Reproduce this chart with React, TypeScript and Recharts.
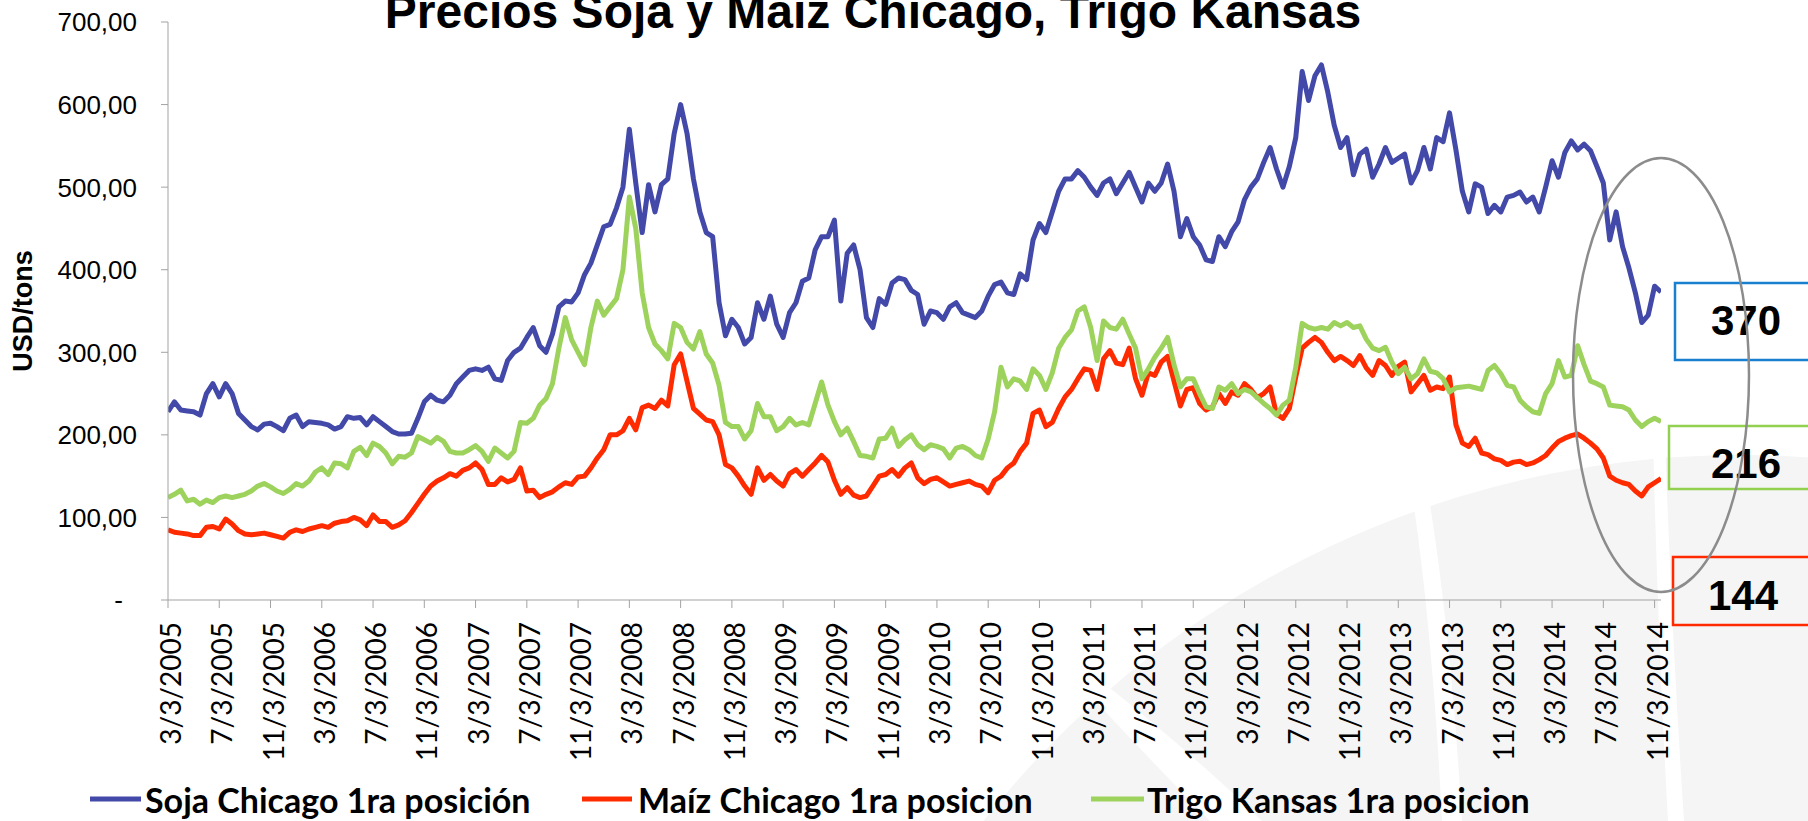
import { LineChart, Line, XAxis, YAxis } from "recharts";

// tick labels on the date axis, one every 4 months from 3/3/2005
const tickLabels = [
  "3/3/2005", "7/3/2005", "11/3/2005", "3/3/2006", "7/3/2006", "11/3/2006",
  "3/3/2007", "7/3/2007", "11/3/2007", "3/3/2008", "7/3/2008", "11/3/2008",
  "3/3/2009", "7/3/2009", "11/3/2009", "3/3/2010", "7/3/2010", "11/3/2010",
  "3/3/2011", "7/3/2011", "11/3/2011", "3/3/2012", "7/3/2012", "11/3/2012",
  "3/3/2013", "7/3/2013", "11/3/2013", "3/3/2014", "7/3/2014", "11/3/2014",
];

// USD/tons, sampled every half month starting 3/3/2005
const soja = [
  228, 240, 230, 229, 228, 224, 250, 262, 246, 262, 250, 226, 218, 210, 206, 213, 214, 210, 205, 220, 224, 210, 216, 215, 214, 212, 207, 210, 222, 220, 221, 212, 222, 216, 210, 204, 201, 201, 202, 220, 240, 248, 242, 240, 248, 262, 270,
  278, 280, 278, 282, 268, 266, 290, 300, 305, 318, 330, 308, 300, 322, 355, 362, 361, 372, 394, 408, 430, 452, 455, 475, 500, 570, 505, 445, 503, 470, 503, 510, 565, 600, 565, 510, 470, 445, 440, 360, 320, 340, 330, 310, 318, 360, 340,
  368, 334, 318, 348, 360, 386, 390, 424, 440, 440, 460, 362, 420, 430, 400, 342, 330, 365, 358, 384, 390, 388, 375, 370, 334, 350, 348, 340, 355, 360, 348, 345, 342, 350, 368, 382, 385, 372, 370, 395, 388, 436, 456, 445, 470, 495, 510,
  510, 520, 512, 500, 490, 505, 510, 492, 505, 518, 500, 482, 505, 495, 505, 528, 495, 440, 462, 440, 430, 412, 410, 440, 428, 446, 458, 485, 500, 510, 530, 548, 522, 500, 525, 560, 640, 605, 635, 648, 615, 575, 548, 560, 515, 540, 546,
  512, 528, 548, 530, 535, 540, 505, 520, 548, 522, 560, 555, 590, 545, 495, 470, 504, 500, 468, 478, 470, 488, 490, 494, 482, 488, 470, 500, 532, 512, 542, 556, 545, 552, 544, 525, 505, 436, 470, 428, 402, 372, 336, 345, 380, 373,
];

const maiz = [
  85, 82, 81, 80, 78, 78, 88, 89, 86, 98, 92, 84, 80, 79, 80, 81, 79, 77, 75, 82, 85, 83, 86, 88, 90, 88, 93, 95, 96, 100, 97, 90, 103, 95, 95, 88, 91, 96, 106, 117, 128, 138, 144, 148, 153, 150, 157,
  160, 166, 158, 140, 140, 148, 143, 146, 160, 132, 133, 124, 128, 131, 137, 142, 140, 149, 150, 160, 172, 182, 200, 200, 205, 220, 206, 233, 236, 232, 242, 235, 285, 298, 265, 232, 225, 218, 216, 200, 164, 160, 150, 138, 128, 160, 145,
  152, 144, 138, 153, 158, 150, 158, 166, 175, 167, 145, 128, 136, 127, 124, 126, 138, 150, 152, 158, 150, 160, 166, 148, 141, 146, 148, 143, 138, 140, 142, 144, 140, 138, 130, 145, 150, 160, 166, 180, 190, 226, 230, 210, 215, 232, 246,
  255, 268, 280, 278, 255, 292, 302, 287, 285, 305, 268, 248, 275, 272, 288, 295, 265, 235, 255, 257, 238, 230, 234, 250, 238, 252, 248, 262, 255, 245, 250, 258, 225, 220, 232, 270, 305, 312, 318, 312, 300, 290, 295, 290, 284, 296, 281,
  272, 290, 284, 272, 283, 288, 252, 262, 272, 254, 258, 256, 270, 212, 190, 186, 196, 178, 176, 171, 169, 164, 167, 168, 164, 166, 170, 175, 184, 192, 196, 199, 201, 196, 190, 183, 172, 150, 145, 142, 140, 132, 126, 137, 142, 147,
];

const trigo = [
  124, 128, 133, 120, 122, 116, 121, 118, 124, 126, 124, 126, 128, 132, 138, 141, 137, 132, 129, 134, 141, 138, 144, 155, 160, 152, 166, 165, 160, 180, 185, 175, 190, 186, 178, 165, 174, 173, 178, 198, 194, 190, 197, 192, 180, 178, 178,
  182, 187, 180, 168, 184, 178, 172, 180, 215, 214, 220, 236, 244, 262, 305, 342, 315, 300, 285, 330, 362, 345, 355, 365, 400, 488, 450, 372, 330, 310, 302, 292, 335, 330, 312, 304, 325, 298, 287, 260, 215, 210, 210, 195, 205, 238, 222,
  222, 205, 210, 220, 212, 215, 212, 238, 264, 236, 216, 200, 208, 192, 175, 174, 172, 195, 196, 208, 186, 194, 200, 188, 182, 188, 186, 183, 172, 184, 186, 182, 175, 172, 195, 228, 282, 258, 268, 265, 255, 280, 272, 255, 275, 305, 318,
  327, 350, 355, 330, 290, 338, 330, 328, 340, 322, 305, 268, 280, 294, 305, 318, 285, 258, 268, 268, 250, 234, 232, 258, 254, 262, 250, 255, 252, 245, 238, 232, 224, 236, 242, 282, 335, 330, 328, 330, 328, 336, 332, 336, 330, 332, 316,
  305, 302, 306, 288, 274, 282, 268, 274, 292, 277, 275, 268, 252, 257, 258, 259, 257, 255, 278, 284, 274, 260, 258, 242, 234, 228, 226, 250, 262, 290, 270, 272, 308, 285, 265, 262, 258, 236, 235, 234, 230, 218, 210, 216, 220, 216,
];

const yTicks = [0, 100, 200, 300, 400, 500, 600, 700];
const lastValues = ["370", "216", "144"];

const rows = soja.map((v, i) => ({ m: i / 2, soja: v, maiz: maiz[i], trigo: trigo[i] }));
const xTicks = tickLabels.map((_, i) => i * 4);

const AXIS = "#A3A3A3";
const ARIAL = "'Liberation Sans', Arial, sans-serif";
const CALIBRI = "Lato, 'Open Sans', sans-serif";

function YTick(props: any) {
  const { x, y, payload } = props;
  const v = payload.value as number;
  if (v === 0) {
    return (
      <text x={x - 36} y={y} dy="0.36em" textAnchor="end" fontSize={26} fontFamily={ARIAL} fill="#000">
        -
      </text>
    );
  }
  return (
    <text x={x - 22} y={y} dy="0.36em" textAnchor="end" fontSize={26} fontFamily={ARIAL} fill="#000">
      {v.toFixed(2).replace(".", ",")}
    </text>
  );
}

function XTick(props: any) {
  const { x, y, index } = props;
  return (
    <text
      transform={`translate(${x + 3},${y + 12}) rotate(-90)`}
      dy="0.36em"
      textAnchor="end"
      fontSize={28}
      fontFamily={CALIBRI}
      fill="#000"
    >
      {tickLabels[index]}
    </text>
  );
}

const legendItems = [
  { label: "Soja Chicago 1ra posición", color: "#4249A8", x1: 90, x2: 141, tx: 145 },
  { label: "Maíz Chicago 1ra posicion", color: "#FF2B00", x1: 582, x2: 632, tx: 638 },
  { label: "Trigo Kansas 1ra posicion", color: "#9DD35C", x1: 1091, x2: 1144, tx: 1147 },
];

export default function App() {
  return (
    <div style={{ position: "relative", width: 1808, height: 821, background: "#fff", overflow: "hidden" }}>
      <style>{"body{margin:0}"}</style>

      {/* faint logo watermark behind the chart */}
      <svg width={1808} height={821} style={{ position: "absolute", left: 0, top: 0 }}>
        <circle cx={1740} cy={1420} r={965} fill="#F5F5F5" />
        <path d="M1410,480 L1426,480 Q1450,620 1462,821 L1442,821 Q1432,620 1410,480 Z" fill="#fff" />
        <path d="M1653,440 L1665,440 Q1672,640 1684,821 L1668,821 Q1658,640 1653,440 Z" fill="#fff" />
        <path d="M1085,690 L1105,684 Q1200,760 1262,821 L1210,821 Q1150,760 1085,690 Z" fill="#fff" />
      </svg>

      <div style={{ position: "absolute", left: 0, top: 0 }}>
        <LineChart width={1808} height={821} data={rows} margin={{ top: 22, right: 147, bottom: 41, left: 0 }}>
          <XAxis
            type="number"
            dataKey="m"
            domain={[0, 116.5]}
            ticks={xTicks}
            interval={0}
            height={180}
            tickSize={8}
            stroke={AXIS}
            tickLine={{ stroke: AXIS }}
            tick={<XTick />}
            allowDataOverflow
          />
          <YAxis
            type="number"
            domain={[0, 700]}
            ticks={yTicks}
            interval={0}
            width={168}
            tickSize={7}
            stroke={AXIS}
            tickLine={{ stroke: AXIS }}
            tick={<YTick />}
          />
          <Line type="linear" dataKey="soja" stroke="#4249A8" strokeWidth={5} dot={false} isAnimationActive={false} strokeLinejoin="round" />
          <Line type="linear" dataKey="maiz" stroke="#FF2B00" strokeWidth={5} dot={false} isAnimationActive={false} strokeLinejoin="round" />
          <Line type="linear" dataKey="trigo" stroke="#9DD35C" strokeWidth={5} dot={false} isAnimationActive={false} strokeLinejoin="round" />
        </LineChart>
      </div>

      {/* title, axis label, annotations and legend */}
      <svg width={1808} height={821} style={{ position: "absolute", left: 0, top: 0, pointerEvents: "none" }}>
        <text x={873} y={28} textAnchor="middle" fontSize={48} fontWeight="bold" fontFamily={ARIAL} fill="#000">
          Precios Soja y Maíz Chicago, Trigo Kansas
        </text>
        <text transform="translate(22,311) rotate(-90)" dy="0.36em" textAnchor="middle" fontSize={27} fontWeight="bold" fontFamily={ARIAL} fill="#000">
          USD/tons
        </text>

        <rect x={1675} y={283} width={200} height={77} fill="none" stroke="#1A7FCF" strokeWidth={2.5} />
        <text x={1746} y={320} dy="0.36em" textAnchor="middle" fontSize={42} fontWeight="bold" fontFamily={ARIAL} fill="#000">
          {lastValues[0]}
        </text>
        <rect x={1669} y={426} width={200} height={63} fill="none" stroke="#92D050" strokeWidth={2.5} />
        <text x={1746} y={463} dy="0.36em" textAnchor="middle" fontSize={42} fontWeight="bold" fontFamily={ARIAL} fill="#000">
          {lastValues[1]}
        </text>
        <rect x={1673} y={557} width={200} height={68} fill="none" stroke="#FF2A00" strokeWidth={2.5} />
        <text x={1743} y={595} dy="0.36em" textAnchor="middle" fontSize={42} fontWeight="bold" fontFamily={ARIAL} fill="#000">
          {lastValues[2]}
        </text>

        <ellipse cx={1661} cy={375} rx={88} ry={217} fill="none" stroke="#8C8C8C" strokeWidth={2.5} />

        {legendItems.map((it) => (
          <g key={it.label}>
            <line x1={it.x1} x2={it.x2} y1={799} y2={799} stroke={it.color} strokeWidth={5} />
            <text x={it.tx} y={813} fontSize={34} fontWeight="bold" fontFamily={CALIBRI} fill="#000">
              {it.label}
            </text>
          </g>
        ))}
      </svg>
    </div>
  );
}
